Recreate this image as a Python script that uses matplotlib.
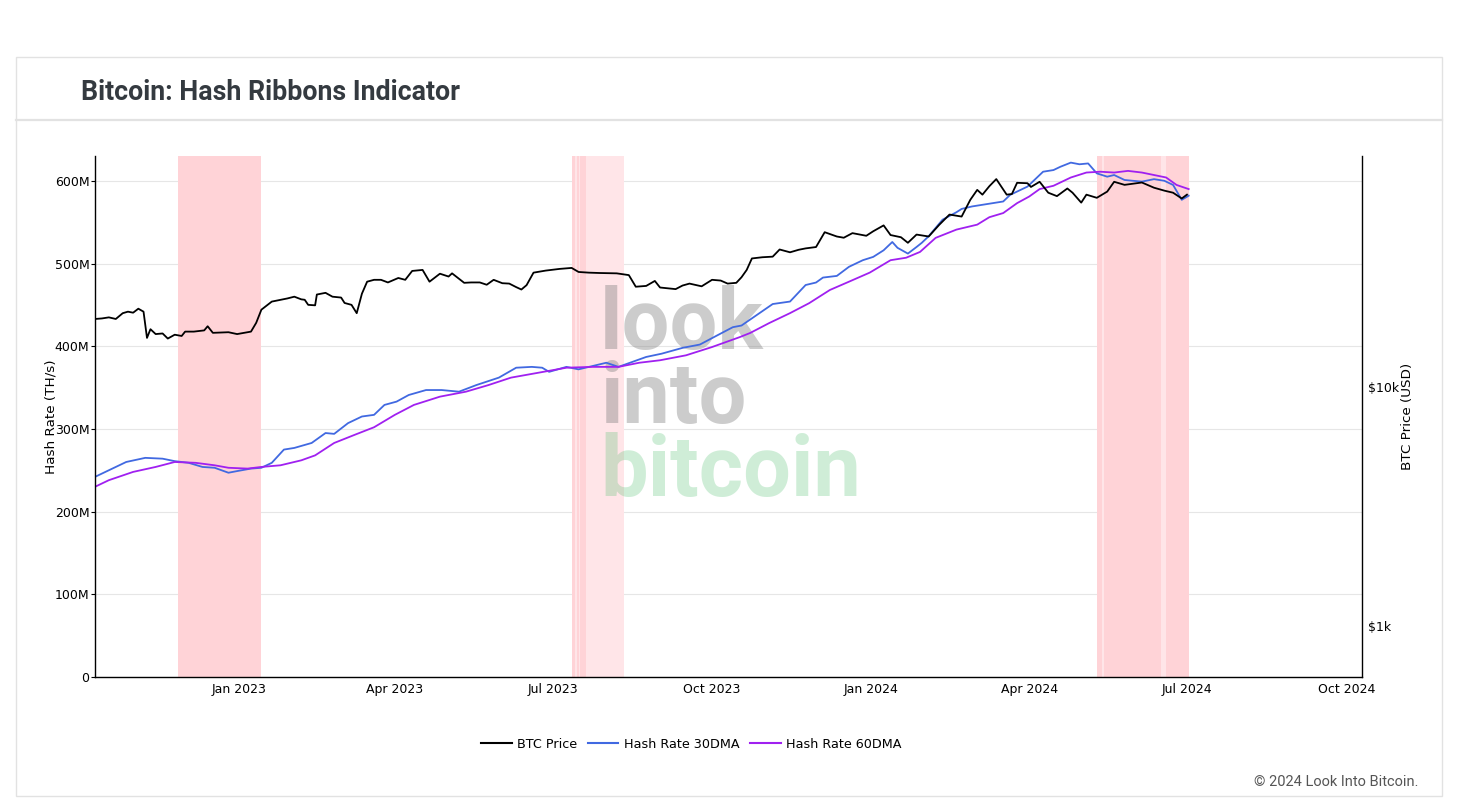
import matplotlib
matplotlib.use("Agg")
import matplotlib.pyplot as plt
import matplotlib.dates as mdates
import matplotlib.ticker as mticker
from matplotlib import font_manager as fm
import pandas as pd
from matplotlib.lines import Line2D
from matplotlib.patches import Rectangle

# ---------------- DATA ----------------
price_dates = [
    "2022-10-10", "2022-10-14", "2022-10-18", "2022-10-22", "2022-10-26", "2022-10-29",
    "2022-11-01", "2022-11-04", "2022-11-07", "2022-11-09", "2022-11-11", "2022-11-14",
    "2022-11-18", "2022-11-21", "2022-11-25", "2022-11-29", "2022-12-01", "2022-12-06",
    "2022-12-12", "2022-12-14", "2022-12-17", "2022-12-21", "2022-12-26", "2022-12-31",
    "2023-01-05", "2023-01-08", "2023-01-11", "2023-01-14", "2023-01-20", "2023-01-24",
    "2023-01-29", "2023-02-02", "2023-02-06", "2023-02-08", "2023-02-10", "2023-02-14",
    "2023-02-15", "2023-02-20", "2023-02-24", "2023-03-01", "2023-03-03", "2023-03-07",
    "2023-03-10", "2023-03-13", "2023-03-16", "2023-03-20", "2023-03-24", "2023-03-28",
    "2023-04-03", "2023-04-07", "2023-04-11", "2023-04-17", "2023-04-21", "2023-04-27",
    "2023-05-02", "2023-05-04", "2023-05-11", "2023-05-15", "2023-05-20", "2023-05-24",
    "2023-05-28", "2023-06-02", "2023-06-06", "2023-06-10", "2023-06-13", "2023-06-16",
    "2023-06-20", "2023-06-27", "2023-07-05", "2023-07-12", "2023-07-16", "2023-07-22",
    "2023-07-28", "2023-08-07", "2023-08-14", "2023-08-18", "2023-08-24", "2023-08-29",
    "2023-09-01", "2023-09-10", "2023-09-14", "2023-09-18", "2023-09-25", "2023-10-01",
    "2023-10-06", "2023-10-10", "2023-10-15", "2023-10-18", "2023-10-21", "2023-10-24",
    "2023-10-30", "2023-11-05", "2023-11-09", "2023-11-15", "2023-11-20", "2023-11-24",
    "2023-11-30", "2023-12-05", "2023-12-12", "2023-12-16", "2023-12-21", "2023-12-29",
    "2024-01-02", "2024-01-08", "2024-01-12", "2024-01-18", "2024-01-22", "2024-01-27",
    "2024-02-03", "2024-02-09", "2024-02-15", "2024-02-22", "2024-02-27", "2024-03-02",
    "2024-03-05", "2024-03-09", "2024-03-13", "2024-03-19", "2024-03-22", "2024-03-25",
    "2024-03-31", "2024-04-02", "2024-04-07", "2024-04-12", "2024-04-17", "2024-04-23",
    "2024-04-26", "2024-05-01", "2024-05-04", "2024-05-10", "2024-05-16", "2024-05-20",
    "2024-05-26", "2024-06-05", "2024-06-12", "2024-06-18", "2024-06-23", "2024-06-28",
    "2024-07-01",
]
price_usd = [
    19200, 19300, 19500, 19200, 20300, 20600,
    20400, 21200, 20600, 16000, 17400, 16600,
    16700, 15900, 16500, 16300, 17000, 17000,
    17200, 17900, 16800, 16850, 16900, 16600,
    16850, 17000, 18500, 21000, 22700, 23000,
    23400, 23800, 23200, 23100, 22000, 21900,
    24300, 24700, 23800, 23600, 22400, 22000,
    20300, 24500, 27500, 28000, 28000, 27300,
    28500, 28000, 30500, 30800, 27500, 29700,
    28900, 29800, 27200, 27300, 27300, 26700,
    28000, 27100, 27000, 26100, 25500, 26600,
    30000, 30600, 31100, 31400, 30200, 30000,
    29900, 29800, 29300, 26200, 26400, 27700,
    26000, 25600, 26500, 27000, 26300, 28000,
    27800, 27000, 27200, 28700, 30800, 34400,
    34800, 35000, 37500, 36500, 37400, 37900,
    38400, 44300, 42500, 42000, 43900, 42800,
    44700, 47300, 43100, 42200, 40000, 43300,
    42500, 47500, 52500, 51500, 60500, 66600,
    63600, 69000, 73900, 63600, 64000, 71300,
    71000, 68500, 72000, 64800, 62700, 67500,
    64800, 58900, 63600, 61700, 65500, 72000,
    69900, 71500, 68000, 66100, 64800, 61300,
    63600,
]

hr30_dates = [
    "2022-10-10", "2022-10-18", "2022-10-28", "2022-11-08", "2022-11-18", "2022-11-25",
    "2022-12-03", "2022-12-11", "2022-12-18", "2022-12-26", "2022-12-31", "2023-01-08",
    "2023-01-14", "2023-01-20", "2023-01-27", "2023-02-02", "2023-02-12", "2023-02-20",
    "2023-02-25", "2023-03-05", "2023-03-13", "2023-03-20", "2023-03-26", "2023-04-02",
    "2023-04-09", "2023-04-19", "2023-04-28", "2023-05-08", "2023-05-18", "2023-05-31",
    "2023-06-10", "2023-06-19", "2023-06-25", "2023-06-29", "2023-07-09", "2023-07-16",
    "2023-07-24", "2023-08-01", "2023-08-08", "2023-08-16", "2023-08-24", "2023-09-02",
    "2023-09-14", "2023-09-24", "2023-10-03", "2023-10-13", "2023-10-18", "2023-10-27",
    "2023-11-05", "2023-11-15", "2023-11-24", "2023-11-30", "2023-12-04", "2023-12-12",
    "2023-12-19", "2023-12-27", "2024-01-02", "2024-01-08", "2024-01-13", "2024-01-16",
    "2024-01-22", "2024-01-27", "2024-01-30", "2024-02-03", "2024-02-11", "2024-02-19",
    "2024-02-22", "2024-02-28", "2024-03-05", "2024-03-11", "2024-03-17", "2024-03-21",
    "2024-03-31", "2024-04-09", "2024-04-15", "2024-04-19", "2024-04-25", "2024-04-30",
    "2024-05-05", "2024-05-10", "2024-05-16", "2024-05-20", "2024-05-26", "2024-06-05",
    "2024-06-12", "2024-06-18", "2024-06-23", "2024-06-28", "2024-07-02",
]
hr30_mths = [
    242, 250, 260, 265, 264, 261,
    259, 254, 253, 247, 249, 252,
    253, 259, 275, 277, 283, 295,
    294, 307, 315, 317, 329, 333,
    341, 347, 347, 345, 353, 362,
    374, 375, 374, 369, 375, 372,
    376, 380, 375, 381, 387, 391,
    398, 402, 412, 423, 425, 438,
    451, 454, 474, 477, 483, 485,
    496, 504, 508, 516, 526, 519,
    512, 520, 525, 533, 553, 562,
    566, 569, 571, 573, 575, 583,
    593, 611, 613, 617, 622, 620,
    621, 609, 605, 607, 601, 599,
    602, 600, 595, 577, 582,
]

hr60_dates = [
    "2022-10-10", "2022-10-18", "2022-11-01", "2022-11-14", "2022-11-25", "2022-12-07",
    "2022-12-18", "2022-12-26", "2023-01-06", "2023-01-14", "2023-01-25", "2023-02-06",
    "2023-02-14", "2023-02-25", "2023-03-09", "2023-03-20", "2023-04-01", "2023-04-12",
    "2023-04-27", "2023-05-12", "2023-05-25", "2023-06-07", "2023-06-23", "2023-07-09",
    "2023-07-24", "2023-08-08", "2023-08-20", "2023-09-01", "2023-09-16", "2023-10-01",
    "2023-10-17", "2023-10-23", "2023-11-03", "2023-11-15", "2023-11-26", "2023-12-08",
    "2023-12-19", "2023-12-31", "2024-01-12", "2024-01-21", "2024-01-29", "2024-02-07",
    "2024-02-19", "2024-03-02", "2024-03-09", "2024-03-17", "2024-03-25", "2024-04-01",
    "2024-04-07", "2024-04-15", "2024-04-25", "2024-05-04", "2024-05-12", "2024-05-20",
    "2024-05-28", "2024-06-05", "2024-06-12", "2024-06-19", "2024-06-25", "2024-07-02",
]
hr60_mths = [
    230, 238, 248, 254, 260, 259,
    256, 253, 252, 254, 256, 262,
    268, 283, 293, 302, 317, 329,
    339, 345, 353, 362, 368, 374,
    375, 375, 380, 383, 389, 399,
    411, 416, 428, 440, 452, 468,
    478, 489, 504, 507, 514, 531,
    541, 547, 556, 561, 573, 581,
    590, 594, 604, 610, 611, 610,
    612, 610, 607, 604, 595, 590,
]

# capitulation bands (start, end, strength)
band_start = ["2022-11-27", "2023-07-12", "2023-07-12", "2023-07-15", "2023-07-17",
              "2024-05-10", "2024-05-10", "2024-05-14", "2024-06-19"]
band_end = ["2023-01-14", "2023-08-11", "2023-07-14", "2023-07-16", "2023-07-20",
            "2024-07-02", "2024-05-13", "2024-06-16", "2024-07-02"]
band_strength = ["strong", "weak", "strong", "strong", "strong",
                 "weak", "strong", "strong", "strong"]

y_ticks_m = [0, 100, 200, 300, 400, 500, 600]
y_tick_labels = ["0", "100M", "200M", "300M", "400M", "500M", "600M"]
price_ticks = [1000, 10000]
price_tick_labels = ["$1k", "$10k"]
x_ticks = ["2023-01-01", "2023-04-01", "2023-07-01", "2023-10-01",
           "2024-01-01", "2024-04-01", "2024-07-01", "2024-10-01"]


# ---------------- FONTS ----------------
def roboto(weight):
    for f in fm.fontManager.ttflist:
        if f.name == "Roboto" and f.style == "normal" and f.weight == weight \
                and f.stretch == "normal" and "[" not in f.fname:
            return fm.FontProperties(fname=f.fname)
    return fm.FontProperties(family="DejaVu Sans", weight=weight)


rb_bold = roboto(700)
rb_reg = roboto(400)

# ---------------- FIGURE ----------------
W, H = 1458, 801
fig = plt.figure(figsize=(W / 100, H / 100), dpi=100)


def fx(px):
    return px / W


def fy(py):
    return 1 - py / H


fig.add_artist(Rectangle((fx(15.5), fy(796)), fx(1442) - fx(15.5), fy(56.5) - fy(796),
                         transform=fig.transFigure, facecolor="white",
                         edgecolor="#e2e2e2", lw=1.0, zorder=-5))
fig.add_artist(Line2D([fx(16), fx(1442)], [fy(120), fy(120)], transform=fig.transFigure,
                      color="#e2e2e2", lw=1.6, zorder=-4))
t = fig.text(fx(81), fy(100), "Bitcoin: Hash Ribbons Indicator", fontproperties=rb_bold,
             color="#343a40", ha="left", va="baseline")
t.set_fontsize(19.3)
c = fig.text(fx(1418), fy(782), "\u00a9 2024 Look Into Bitcoin.", fontproperties=rb_reg,
             color="#555555", ha="right", va="center")
c.set_fontsize(10.5)

ax = fig.add_axes([fx(95), fy(677), fx(1362) - fx(95), fy(156) - fy(677)])
ax.set_facecolor("none")
ax.set_axisbelow(True)

# bands
band_colors = {"strong": "#ffd3d7", "weak": "#ffe5e8"}
for s, e, st in zip(band_start, band_end, band_strength):
    ax.axvspan(pd.Timestamp(s), pd.Timestamp(e), color=band_colors[st], lw=0,
               zorder=1 if st == "weak" else 1.1)

# watermark
for word, yy, col, al in [("look", 0.6296, (0.5, 0.5, 0.5), 0.4),
                          ("into", 0.4875, (0.5, 0.5, 0.5), 0.4),
                          ("bitcoin", 0.3474, (0.25, 0.73, 0.39), 0.25)]:
    tw = ax.text(0.3986, yy, word, transform=ax.transAxes, fontproperties=rb_bold,
                 ha="left", va="baseline", zorder=1.5, color=col, alpha=al)
    tw.set_fontsize(61)

c30 = "#4169e1"
c60 = "#a020f0"
ax.plot(pd.to_datetime(hr30_dates), [v * 1e6 for v in hr30_mths], color=c30, lw=1.3, zorder=2)
ax.plot(pd.to_datetime(hr60_dates), [v * 1e6 for v in hr60_mths], color=c60, lw=1.3, zorder=2)

ax.set_xlim(pd.Timestamp("2022-10-10"), pd.Timestamp("2024-10-10"))
ax.set_ylim(0, 630e6)
ax.set_yticks([v * 1e6 for v in y_ticks_m])
ax.set_yticklabels(y_tick_labels)
ax.set_xticks(pd.to_datetime(x_ticks))
ax.xaxis.set_major_formatter(mdates.DateFormatter("%b %Y"))
ax.grid(axis="y", color="#e6e6e6", lw=0.8)
ax.grid(axis="x", visible=False)
ax.tick_params(axis="y", length=3, width=0.8, pad=1, labelsize=9, colors="black")
ax.tick_params(axis="x", length=0, pad=4, labelsize=9)
for sp in ["top", "right"]:
    ax.spines[sp].set_visible(False)
for sp in ["left", "bottom"]:
    ax.spines[sp].set_color("black")
    ax.spines[sp].set_linewidth(1.0)
ax.set_ylabel("Hash Rate (TH/s)", fontsize=9.7)
ax.yaxis.set_label_coords((57.5 - 95) / 1267, 0.5)

ax2 = ax.twinx()
ax2.set_yscale("log")
ax2.plot(pd.to_datetime(price_dates), price_usd, color="black", lw=1.3, zorder=3)
ax2.set_ylim(610, 92300)
ax2.yaxis.set_major_locator(mticker.FixedLocator(price_ticks))
ax2.yaxis.set_minor_locator(mticker.NullLocator())
ax2.set_yticklabels(price_tick_labels)
ax2.tick_params(axis="y", length=0, pad=4, labelsize=9)
for sp in ["top", "left", "bottom"]:
    ax2.spines[sp].set_visible(False)
ax2.spines["right"].set_color("black")
ax2.spines["right"].set_linewidth(1.0)
ax2.set_ylabel("BTC Price (USD)", fontsize=9.7)
ax2.yaxis.set_label_coords((1401.5 - 95) / 1267, 0.5)
ax2.set_xlim(pd.Timestamp("2022-10-10"), pd.Timestamp("2024-10-10"))

handles = [Line2D([], [], color="black", lw=1.5),
           Line2D([], [], color=c30, lw=1.5),
           Line2D([], [], color=c60, lw=1.5)]
fig.legend(handles, ["BTC Price", "Hash Rate 30DMA", "Hash Rate 60DMA"],
           loc="center", bbox_to_anchor=(fx(691.5), fy(744)), ncol=3, frameon=False,
           fontsize=9.2, handlelength=2.4, handletextpad=0.45, columnspacing=0.8)

fig.savefig("out.png", dpi=100)
